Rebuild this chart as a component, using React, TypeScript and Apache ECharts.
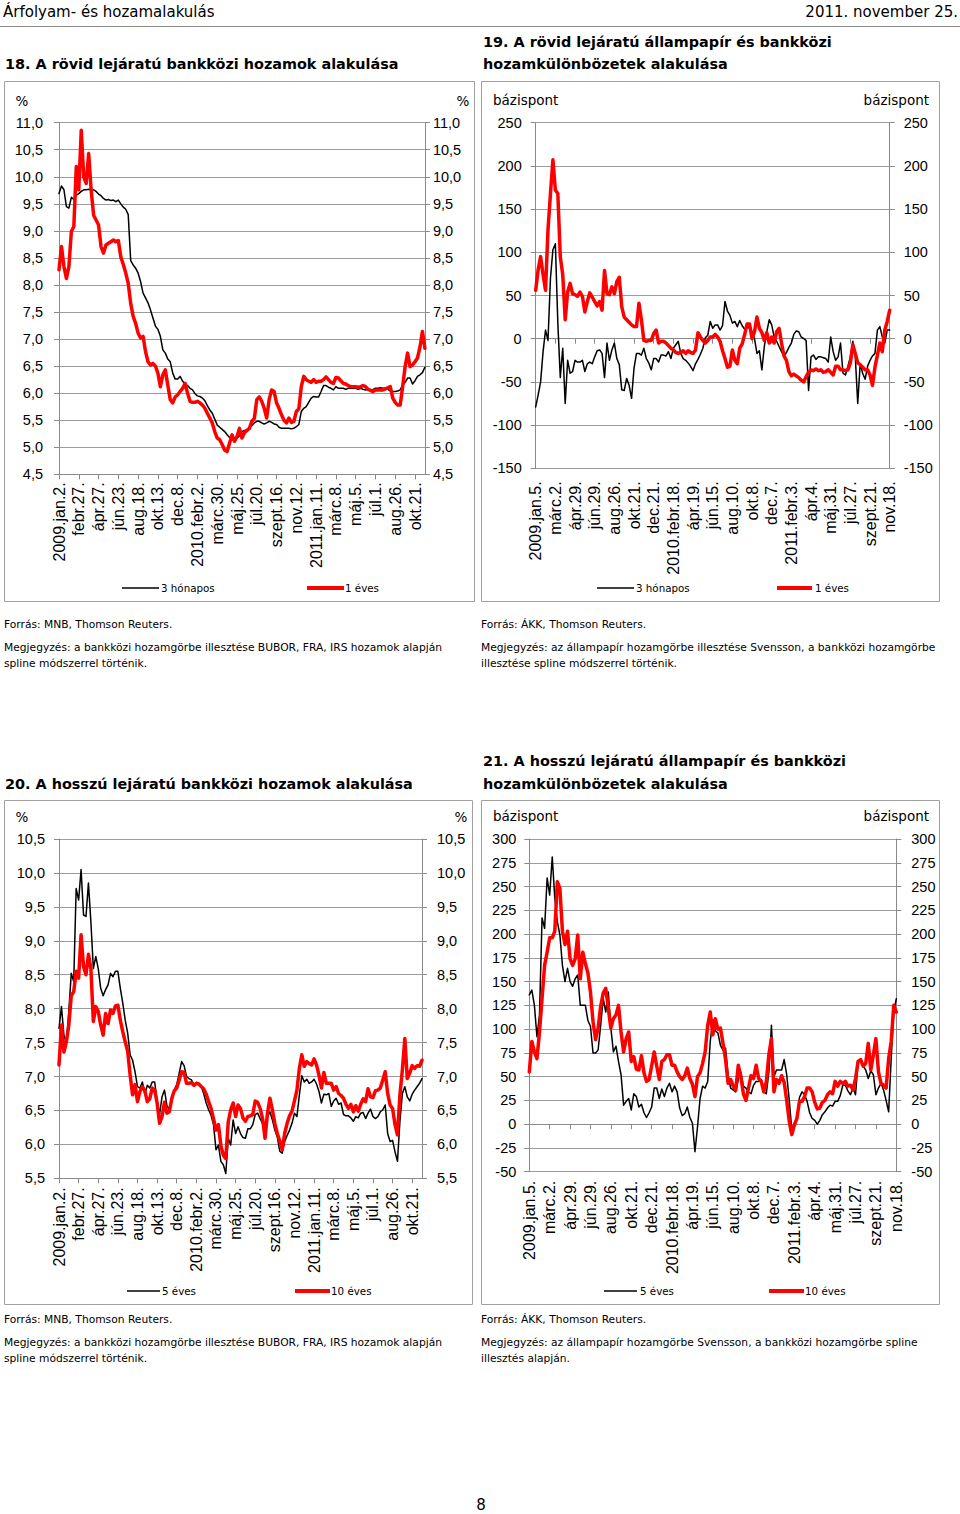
import React, { useEffect, useRef } from 'react';
import * as echarts from 'echarts';

const FONT = '"DejaVu Sans", "Noto Sans", sans-serif';
const NUM = '"Liberation Sans", Arial, sans-serif';
const GRIDC = '#9c9c9c';
const AXISC = '#8a8a8a';
const BOXC = '#a0a0a0';
const RED = '#ff0000';

// ---- tick labels (every 8th weekly observation) ----
const dates18 = ['2009.jan.2.', 'febr.27.', 'ápr.27.', 'jún.23.', 'aug.18.', 'okt.13.', 'dec.8.', '2010.febr.2.', 'márc.30.', 'máj.25.', 'júl.20.', 'szept.16.', 'nov.12.', '2011.jan.11.', 'márc.8.', 'máj.5.', 'júl.1.', 'aug.26.', 'okt.21.'];
const dates19 = ['2009.jan.5.', 'márc.2.', 'ápr.29.', 'jún.29.', 'aug.26.', 'okt.21.', 'dec.21.', '2010.febr.18.', 'ápr.19.', 'jún.15.', 'aug.10.', 'okt.8.', 'dec.7.', '2011.febr.3.', 'ápr.4.', 'máj.31.', 'júl.27.', 'szept.21.', 'nov.18.'];

// ---- 18. short-term interbank yields (%) ----
const s18_3m = [
  9.69, 9.83, 9.76, 9.45, 9.42, 9.62, 9.58, 9.66, 9.69, 9.73,
  9.76, 9.76, 9.77, 9.76, 9.76, 9.73, 9.68, 9.65, 9.60, 9.57,
  9.58, 9.56, 9.57, 9.54, 9.57, 9.50, 9.44, 9.40, 9.30, 8.45,
  8.37, 8.31, 8.22, 8.06, 7.85, 7.76, 7.67, 7.54, 7.39, 7.24,
  7.18, 7.05, 6.80, 6.74, 6.63, 6.58, 6.37, 6.26, 6.26, 6.31,
  6.22, 6.17, 6.14, 6.09, 6.06, 5.99, 5.95, 5.94, 5.91, 5.86,
  5.77, 5.69, 5.63, 5.52, 5.41, 5.37, 5.33, 5.29, 5.23, 5.18,
  5.14, 5.14, 5.17, 5.21, 5.29, 5.31, 5.32, 5.35, 5.40, 5.45,
  5.48, 5.48, 5.45, 5.43, 5.45, 5.48, 5.46, 5.43, 5.42, 5.37,
  5.35, 5.35, 5.35, 5.35, 5.34, 5.35, 5.38, 5.42, 5.66, 5.72,
  5.75, 5.83, 5.91, 5.94, 5.93, 5.93, 6.03, 6.14, 6.14, 6.11,
  6.09, 6.06, 6.12, 6.09, 6.09, 6.09, 6.07, 6.09, 6.09, 6.09,
  6.09, 6.07, 6.09, 6.07, 6.06, 6.07, 6.06, 6.07, 6.09, 6.09,
  6.10, 6.09, 6.09, 6.07, 6.04, 6.03, 6.03, 6.04, 6.06, 6.15,
  6.20, 6.28, 6.28, 6.17, 6.23, 6.31, 6.34, 6.38, 6.48,
];
const s18_1y = [
  8.28, 8.71, 8.34, 8.12, 8.34, 8.99, 9.08, 10.19, 9.76, 10.86,
  10.00, 9.88, 10.43, 9.76, 9.29, 9.20, 9.11, 8.71, 8.59, 8.74,
  8.77, 8.80, 8.83, 8.80, 8.82, 8.52, 8.38, 8.22, 8.03, 7.66,
  7.42, 7.29, 7.11, 7.02, 7.05, 6.77, 6.58, 6.52, 6.55, 6.50,
  6.37, 6.12, 6.34, 6.43, 6.15, 5.88, 5.82, 5.93, 5.97, 6.03,
  6.09, 6.18, 6.00, 5.85, 5.83, 5.83, 5.85, 5.82, 5.78, 5.72,
  5.63, 5.54, 5.45, 5.29, 5.17, 5.14, 5.05, 4.95, 4.92, 5.08,
  5.23, 5.11, 5.20, 5.35, 5.17, 5.27, 5.31, 5.35, 5.48, 5.53,
  5.88, 5.93, 5.85, 5.72, 5.54, 5.88, 6.06, 6.03, 5.82, 5.72,
  5.60, 5.50, 5.45, 5.54, 5.46, 5.48, 5.66, 5.71, 6.12, 6.31,
  6.25, 6.22, 6.20, 6.25, 6.20, 6.22, 6.22, 6.25, 6.30, 6.25,
  6.20, 6.18, 6.29, 6.28, 6.23, 6.18, 6.17, 6.14, 6.12, 6.12,
  6.12, 6.11, 6.12, 6.14, 6.12, 6.07, 6.05, 6.03, 6.06, 6.06,
  6.06, 6.06, 6.08, 6.10, 6.12, 5.91, 5.83, 5.78, 5.78, 6.12,
  6.49, 6.74, 6.49, 6.52, 6.58, 6.65, 6.85, 7.14, 6.83,
];

// ---- 19. short-term government vs interbank spreads (bp) ----
const s19_3m = [
  -79, -65, -50, -15, 10, -2, 70, 103, 110, 18,
  -45, -11, -75, -25, -40, -38, -25, -27, -27, -25,
  -38, -29, -27, -29, -21, -14, -13, -17, -45, -5,
  -25, -13, -5, -23, -30, -59, -60, -46, -54, -69,
  -34, -17, -17, -19, -11, -23, -28, -36, -23, -23,
  -27, -19, -19, -20, -15, -23, -11, -7, -3, -17,
  -23, -25, -28, -32, -37, -29, -24, -18, -11, 1,
  4, 20, 12, 16, 16, 10, 15, 43, 32, 27,
  18, 20, 14, 21, 15, 11, 14, 12, 8, 0,
  -17, -14, -36, -9, 8, 22, 16, 2, -3, -9,
  -15, -20, -16, -10, -5, 5, 9, 8, 2, 0,
  -2, -60, -21, -19, -24, -21, -21, -22, -23, -27,
  2, -15, -25, -21, -5, -40, -42, -32, -21, -3,
  -21, -75, -29, -40, -47, -32, -25, -20, -17, 10,
  14, 2, -5, 10, 10,
];
const s19_1y = [
  56, 80, 95, 74, 56, 126, 168, 207, 172, 168,
  95, 74, 22, 54, 64, 52, 51, 49, 54, 49,
  31, 43, 53, 48, 43, 38, 43, 33, 79, 52,
  51, 60, 52, 66, 71, 37, 25, 22, 19, 16,
  14, 14, 41, 22, -2, -3, -2, -2, 6, 10,
  -5, -3, -3, -5, -8, -11, -13, -16, -17, -16,
  -14, -17, -14, -16, -17, -13, 7, 2, -2, -5,
  -2, 2, 2, 5, 2, -3, -14, -23, -33, -32,
  -13, -25, -29, -11, -6, 5, 17, 17, 0, 8,
  25, 12, 7, -2, 7, -5, 2, -5, 8, 12,
  -5, -20, -25, -38, -43, -41, -43, -45, -48, -50,
  -44, -39, -36, -37, -35, -37, -36, -39, -38, -36,
  -39, -42, -32, -32, -36, -36, -37, -36, -28, -7,
  -17, -28, -30, -33, -36, -36, -42, -54, -33, -19,
  -5, -15, 10, 20, 33,
];

// ---- 20. long-term interbank yields (%) ----
const s20_5y = [
  7.71, 8.03, 7.61, 7.49, 7.96, 8.52, 8.40, 9.77, 9.60, 10.05,
  9.38, 9.36, 9.85, 9.28, 8.59, 8.77, 8.59, 8.30, 8.19, 8.28,
  8.35, 8.52, 8.47, 8.55, 8.55, 8.30, 8.08, 7.83, 7.64, 7.32,
  7.24, 7.07, 6.85, 6.83, 6.92, 6.74, 6.87, 6.83, 6.92, 6.92,
  6.65, 6.44, 6.70, 6.80, 6.57, 6.51, 6.63, 6.80, 6.88, 7.05,
  7.22, 7.16, 7.00, 6.97, 6.95, 6.88, 6.91, 6.89, 6.85, 6.75,
  6.61, 6.51, 6.43, 6.29, 5.92, 5.99, 5.75, 5.70, 5.57, 6.09,
  5.99, 6.36, 6.16, 6.26, 6.16, 6.10, 6.09, 6.23, 6.23, 6.29,
  6.44, 6.46, 6.38, 6.31, 6.14, 6.41, 6.48, 6.36, 6.21, 6.11,
  5.90, 5.87, 6.04, 6.13, 6.21, 6.31, 6.46, 6.41, 6.73, 7.01,
  6.92, 6.96, 6.90, 6.92, 6.96, 6.89, 6.78, 6.61, 6.74, 6.73,
  6.75, 6.56, 6.64, 6.68, 6.59, 6.61, 6.44, 6.42, 6.42, 6.39,
  6.34, 6.41, 6.39, 6.46, 6.47, 6.38, 6.46, 6.52, 6.41, 6.38,
  6.41, 6.48, 6.51, 6.58, 6.16, 6.04, 6.06, 5.89, 5.75, 6.34,
  6.75, 6.85, 6.70, 6.64, 6.74, 6.80, 6.85, 6.90, 6.97,
];
const s20_10y = [
  7.17, 7.76, 7.36, 7.51, 7.76, 8.19, 8.25, 8.55, 8.45, 9.09,
  8.62, 8.50, 8.80, 8.59, 7.81, 8.03, 7.96, 7.76, 7.61, 7.93,
  7.78, 7.98, 7.93, 8.04, 8.05, 7.83, 7.66, 7.51, 7.37, 7.02,
  6.73, 6.88, 6.63, 6.78, 6.85, 6.79, 6.63, 6.67, 6.83, 6.80,
  6.61, 6.31, 6.41, 6.62, 6.46, 6.48, 6.68, 6.79, 6.83, 6.95,
  7.07, 7.06, 6.90, 6.90, 6.91, 6.87, 6.90, 6.89, 6.85, 6.82,
  6.74, 6.63, 6.53, 6.38, 6.21, 6.29, 5.98, 5.84, 5.79, 6.33,
  6.51, 6.61, 6.41, 6.58, 6.53, 6.39, 6.34, 6.41, 6.42, 6.44,
  6.64, 6.62, 6.53, 6.38, 6.09, 6.46, 6.68, 6.51, 6.31, 6.16,
  6.05, 5.92, 6.16, 6.31, 6.42, 6.49, 6.64, 6.80, 7.12, 7.32,
  7.15, 7.22, 7.19, 7.17, 7.26, 7.17, 7.02, 6.83, 7.06, 6.90,
  6.90, 6.90, 6.80, 6.85, 6.75, 6.72, 6.68, 6.59, 6.53, 6.59,
  6.48, 6.57, 6.49, 6.59, 6.67, 6.63, 6.82, 6.70, 6.69, 6.79,
  6.80, 6.83, 6.95, 7.07, 6.75, 6.58, 6.53, 6.29, 6.14, 6.73,
  7.10, 7.56, 6.97, 7.05, 7.16, 7.12, 7.16, 7.15, 7.24,
];

// ---- 21. long-term government vs interbank spreads (bp) ----
const s21_5y = [
  136, 141, 125, 92, 115, 217, 206, 259, 241, 281,
  238, 213, 199, 167, 150, 164, 150, 145, 153, 157,
  125, 125, 125, 109, 103, 75, 75, 78, 104, 132,
  118, 139, 101, 76, 82, 66, 52, 20, 24, 27,
  15, 32, 29, 18, 21, 12, 7, 12, 18, 38,
  38, 27, 37, 29, 38, 43, 34, 40, 34, 17,
  9, 11, 18, 7, 1, -29, -3, 27, 40, 38,
  45, 87, 110, 98, 96, 83, 78, 80, 52, 38,
  36, 34, 47, 55, 40, 38, 34, 32, 41, 45,
  45, 47, 34, 32, 55, 104, 50, 57, 57, 57,
  68, 52, 25, -6, 1, 6, 28, 34, 31, 24,
  12, 6, 4, 0, 4, 10, 13, 17, 20, 19,
  24, 24, 30, 41, 41, 35, 31, 38, 31, 66,
  68, 61, 57, 48, 56, 52, 31, 38, 43, 36,
  25, 13, 69, 118, 132,
];
const s21_10y = [
  55, 87, 76, 69, 97, 132, 167, 181, 196, 196,
  203, 255, 248, 203, 189, 203, 174, 167, 174, 199,
  153, 181, 169, 159, 139, 108, 89, 101, 124, 138,
  143, 122, 101, 111, 115, 125, 97, 76, 90, 97,
  66, 71, 58, 57, 72, 54, 45, 47, 61, 76,
  61, 47, 66, 68, 73, 73, 62, 62, 55, 50,
  47, 51, 59, 48, 42, 29, 50, 54, 64, 76,
  104, 118, 94, 111, 100, 101, 85, 68, 43, 47,
  40, 36, 62, 50, 32, 25, 38, 51, 48, 62,
  48, 45, 34, 45, 73, 90, 34, 47, 43, 51,
  44, 25, 3, -11, -1, 6, 24, 24, 29, 38,
  38, 34, 23, 16, 17, 23, 25, 31, 34, 32,
  45, 40, 45, 43, 45, 40, 41, 36, 48, 66,
  68, 61, 64, 85, 57, 73, 90, 55, 43, 41,
  38, 69, 87, 125, 118,
];

const every8 = (i: number) => i % 8 === 0;
function catData(n: number, labels: string[]) {
  return Array.from({ length: n }, (_, i) => (i % 8 === 0 && labels[i / 8] ? labels[i / 8] : ''));
}
const pct = (v: number) => v.toFixed(1).replace('.', ',');
const bp = (v: number) => String(v);

function txt(x: number, y: number, text: string, size: number, opts: any = {}) {
  const align = opts.align || 'left';
  return {
    type: 'text',
    x,
    y,
    silent: true,
    style: {
      text,
      fontSize: size,
      fontFamily: opts.family || FONT,
      fontWeight: opts.bold ? 'bold' : 'normal',
      fill: '#000',
      align,
      verticalAlign: 'middle',
      textAlign: align,
      textVerticalAlign: 'middle',
    },
  };
}
function seg(x1: number, x2: number, y: number, color: string, w: number) {
  return { type: 'line', silent: true, shape: { x1, y1: y, x2, y2: y }, style: { stroke: color, lineWidth: w } };
}
function box(x: number, y: number, w: number, h: number) {
  return { type: 'rect', silent: true, shape: { x, y, width: w, height: h }, style: { fill: 'none', stroke: BOXC, lineWidth: 1 } };
}

function xCat(gridIndex: number, data: string[], margin: number, mode: 'full' | 'labels' | 'zero') {
  return {
    type: 'category',
    gridIndex,
    data,
    boundaryGap: false,
    position: 'bottom',
    axisLine: { show: mode !== 'labels', onZero: mode === 'zero', lineStyle: { color: AXISC, width: 1 } },
    axisTick: { show: mode !== 'labels', interval: every8, length: 5, lineStyle: { color: AXISC } },
    axisLabel: {
      show: mode !== 'zero',
      interval: every8,
      rotate: 90,
      margin,
      fontFamily: NUM,
      fontSize: 16,
      color: '#000',
    },
    splitLine: { show: false },
  };
}
function yVal(gridIndex: number, pos: 'left' | 'right', min: number, max: number, interval: number, fmt: (v: number) => string, margin: number) {
  return {
    type: 'value',
    gridIndex,
    position: pos,
    min,
    max,
    interval,
    axisLine: { show: true, lineStyle: { color: AXISC, width: 1 } },
    axisTick: { show: true, length: 5, lineStyle: { color: AXISC } },
    axisLabel: { formatter: fmt, margin, fontFamily: NUM, fontSize: 14.5, color: '#000' },
    splitLine: { show: pos === 'left', lineStyle: { color: GRIDC, width: 1 } },
  };
}
function line(name: string, data: number[], xi: number, yi: number, color: string, w: number, z: number) {
  return {
    type: 'line',
    name,
    data,
    xAxisIndex: xi,
    yAxisIndex: yi,
    symbol: 'none',
    showSymbol: false,
    z,
    lineStyle: { color, width: w, join: 'round', cap: 'round' },
    itemStyle: { color },
    emphasis: { disabled: true },
  };
}

export default function App() {
  const ref = useRef<HTMLDivElement>(null);
  useEffect(() => {
    if (!ref.current) return;
    const chart = echarts.init(ref.current, undefined, { renderer: 'svg' });
    const c18 = catData(s18_3m.length, dates18);
    const c19 = catData(s19_3m.length, dates19);
    const c20 = catData(s20_5y.length, dates18);
    const c21 = catData(s21_5y.length, dates19);

    const graphic: any[] = [
      txt(3, 12, 'Árfolyam- és hozamalakulás', 15),
      txt(958, 12, '2011. november 25.', 15, { align: 'right' }),
      seg(0, 960, 26.5, '#8c8c8c', 1),
      // titles
      txt(5, 64, '18. A rövid lejáratú bankközi hozamok alakulása', 14.4, { bold: true }),
      txt(483, 42, '19. A rövid lejáratú állampapír és bankközi', 14.4, { bold: true }),
      txt(483, 64, 'hozamkülönbözetek alakulása', 14.4, { bold: true }),
      txt(5, 784, '20. A hosszú lejáratú bankközi hozamok alakulása', 14.4, { bold: true }),
      txt(483, 761, '21. A hosszú lejáratú állampapír és bankközi', 14.4, { bold: true }),
      txt(483, 784, 'hozamkülönbözetek alakulása', 14.4, { bold: true }),
      // frames
      box(4.5, 81.5, 470, 520),
      box(481.5, 81.5, 458, 520),
      box(4.5, 800.5, 468, 504),
      box(481.5, 800.5, 458, 504),
      // unit labels
      txt(22, 101, '%', 13.5, { align: 'center' }),
      txt(463, 101, '%', 13.5, { align: 'center' }),
      txt(493, 100, 'bázispont', 13.5),
      txt(929, 100, 'bázispont', 13.5, { align: 'right' }),
      txt(22, 817, '%', 13.5, { align: 'center' }),
      txt(461, 817, '%', 13.5, { align: 'center' }),
      txt(493, 816, 'bázispont', 13.5),
      txt(929, 816, 'bázispont', 13.5, { align: 'right' }),
      // legends
      seg(122, 159, 588, '#000', 1.5),
      txt(161, 588, '3 hónapos', 10.3),
      seg(307, 344, 588, RED, 4),
      txt(345, 588, '1 éves', 10.3),
      seg(597, 634, 588, '#000', 1.5),
      txt(636, 588, '3 hónapos', 10.3),
      seg(777, 812, 588, RED, 4),
      txt(815, 588, '1 éves', 10.3),
      seg(127, 160, 1291, '#000', 1.5),
      txt(162, 1291, '5 éves', 10.3),
      seg(295, 330, 1291, RED, 4),
      txt(331, 1291, '10 éves', 10.3),
      seg(604, 637, 1291, '#000', 1.5),
      txt(640, 1291, '5 éves', 10.3),
      seg(769, 804, 1291, RED, 4),
      txt(805, 1291, '10 éves', 10.3),
      // sources and notes
      txt(4, 624, 'Forrás: MNB, Thomson Reuters.', 10.7),
      txt(4, 647, 'Megjegyzés: a bankközi hozamgörbe illesztése BUBOR, FRA, IRS hozamok alapján', 10.7),
      txt(4, 663, 'spline módszerrel történik.', 10.7),
      txt(481, 624, 'Forrás: ÁKK, Thomson Reuters.', 10.7),
      txt(481, 647, 'Megjegyzés: az állampapír hozamgörbe illesztése Svensson, a bankközi hozamgörbe', 10.7),
      txt(481, 663, 'illesztése spline módszerrel történik.', 10.7),
      txt(4, 1319, 'Forrás: MNB, Thomson Reuters.', 10.7),
      txt(4, 1342, 'Megjegyzés: a bankközi hozamgörbe illesztése BUBOR, FRA, IRS hozamok alapján', 10.7),
      txt(4, 1358, 'spline módszerrel történik.', 10.7),
      txt(481, 1319, 'Forrás: ÁKK, Thomson Reuters.', 10.7),
      txt(481, 1342, 'Megjegyzés: az állampapír hozamgörbe Svensson, a bankközi hozamgörbe spline', 10.7),
      txt(481, 1358, 'illesztés alapján.', 10.7),
      txt(481, 1505, '8', 15, { align: 'center' }),
    ];

    const option: any = {
      animation: false,
      backgroundColor: '#fff',
      grid: [
        { left: 59, top: 122.7, width: 365.9, height: 351.6, containLabel: false },
        { left: 535.7, top: 122.7, width: 354, height: 345.6, containLabel: false },
        { left: 59, top: 839, width: 363, height: 339.3, containLabel: false },
        { left: 529.3, top: 839, width: 367, height: 332.7, containLabel: false },
      ],
      xAxis: [
        xCat(0, c18, 8, 'full'),
        xCat(1, c19, 13, 'labels'),
        xCat(1, c19, 13, 'zero'),
        xCat(2, c20, 9, 'full'),
        xCat(3, c21, 9, 'labels'),
        xCat(3, c21, 9, 'zero'),
      ],
      yAxis: [
        yVal(0, 'left', 4.5, 11, 0.5, pct, 16),
        yVal(0, 'right', 4.5, 11, 0.5, pct, 8),
        yVal(1, 'left', -150, 250, 50, bp, 14),
        yVal(1, 'right', -150, 250, 50, bp, 14),
        yVal(2, 'left', 5.5, 10.5, 0.5, pct, 14),
        yVal(2, 'right', 5.5, 10.5, 0.5, pct, 15),
        yVal(3, 'left', -50, 300, 25, bp, 13),
        yVal(3, 'right', -50, 300, 25, bp, 15),
      ],
      series: [
        line('3 hónapos', s18_3m, 0, 0, '#000', 1.5, 3),
        line('1 éves', s18_1y, 0, 0, RED, 3.5, 4),
        line('3 hónapos ', s19_3m, 1, 2, '#000', 1.5, 3),
        line('1 éves ', s19_1y, 1, 2, RED, 3.5, 4),
        line('5 éves', s20_5y, 3, 4, '#000', 1.5, 3),
        line('10 éves', s20_10y, 3, 4, RED, 3.5, 4),
        line('5 éves ', s21_5y, 4, 6, '#000', 1.5, 3),
        line('10 éves ', s21_10y, 4, 6, RED, 3.5, 4),
      ],
      graphic,
    };
    chart.setOption(option);
    return () => chart.dispose();
  }, []);
  return (
    <div
      ref={ref}
      style={{ position: 'absolute', left: 0, top: 0, width: 960, height: 1514, background: '#fff' }}
    />
  );
}
